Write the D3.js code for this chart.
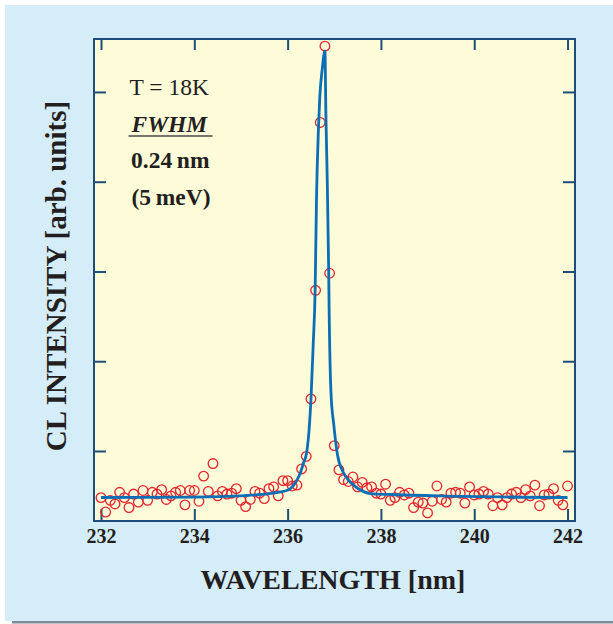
<!DOCTYPE html>
<html>
<head>
<meta charset="UTF-8">
<title>CL spectrum</title>
<script src="https://cdn.jsdelivr.net/npm/d3@7"></script>
<style>
  body { margin: 0; background: #fff; }
  svg text { font-family: "Liberation Serif", "Times New Roman", serif; fill: #231f20; }
</style>
</head>
<body>
<script>
// measured points, one every 0.1 nm from 232.0 to 242.0
var wavelength = d3.range(0, 101).map(function (i) { return +(232 + i * 0.1).toFixed(1); });
var intensity = [
  0.48, 0.32, 0.45, 0.41, 0.54, 0.48, 0.37, 0.52, 0.43, 0.56,
  0.45, 0.54, 0.52, 0.57, 0.46, 0.50, 0.54, 0.56, 0.40, 0.56,
  0.56, 0.44, 0.72, 0.55, 0.86, 0.50, 0.55, 0.52, 0.53, 0.58,
  0.45, 0.38, 0.46, 0.55, 0.53, 0.47, 0.58, 0.60, 0.50, 0.67,
  0.67, 0.61, 0.62, 0.80, 0.94, 1.58, 2.79, 4.66, 5.51, 2.98,
  1.06, 0.79, 0.68, 0.66, 0.71, 0.60, 0.65, 0.59, 0.60, 0.53,
  0.52, 0.63, 0.45, 0.48, 0.54, 0.51, 0.53, 0.37, 0.43, 0.42,
  0.31, 0.44, 0.61, 0.46, 0.43, 0.53, 0.54, 0.53, 0.42, 0.60,
  0.51, 0.52, 0.55, 0.52, 0.39, 0.48, 0.40, 0.48, 0.52, 0.54,
  0.48, 0.57, 0.50, 0.62, 0.39, 0.51, 0.52, 0.58, 0.45, 0.40,
  0.61
];

// fitted curve
var fitX = [232.00, 234.00, 235.00, 235.30, 235.66, 236.01, 236.16, 236.27, 236.34, 236.41,
  236.46, 236.50, 236.55, 236.59, 236.62, 236.66, 236.69, 236.74, 236.80, 236.82,
  236.85, 236.88, 236.89, 236.93, 236.99, 237.07, 237.19, 237.34, 237.51, 237.77,
  238.23, 239.27, 242.00];
var fitY = [0.482, 0.487, 0.499, 0.510, 0.529, 0.565, 0.640, 0.752, 0.866, 0.989,
  1.234, 1.568, 2.203, 2.794, 3.830, 4.577, 4.945, 5.245, 5.457, 4.769,
  4.004, 3.017, 2.571, 1.646, 1.290, 0.955, 0.766, 0.655, 0.582, 0.526,
  0.515, 0.499, 0.482];

var xTicks = [232, 234, 236, 238, 240, 242];
var yTicks = [1, 2, 3, 4, 5];

var W = 613, H = 624;
var svg = d3.select("body").append("svg").attr("width", W).attr("height", H);

// blue panel and grey rule under it
svg.append("rect").attr("x", 5).attr("y", 5).attr("width", W - 5).attr("height", 616).attr("fill", "#d5ecf9");
svg.append("rect").attr("x", 12).attr("y", 621).attr("width", W - 12).attr("height", 2.5).attr("fill", "#7d8c98");

var pl = 94, pr = 575, pt = 39, pb = 521;

var x = d3.scaleLinear().domain([231.85, 242.16]).range([pl, pr]);
var y = d3.scaleLinear().domain([0.22, 5.59]).range([pb, pt]);

svg.append("rect").attr("x", pl).attr("y", pt)
  .attr("width", pr - pl).attr("height", pb - pt)
  .attr("fill", "#fefbd8");

// axes, ticks point inward
function styleAxis(g) {
  g.select(".domain").remove();
  g.selectAll(".tick line").attr("stroke", "#1d4e7a").attr("stroke-width", 2);
}
svg.append("g").attr("transform", "translate(0," + pb + ")")
  .call(d3.axisBottom(x).tickValues(xTicks).tickSize(-12).tickPadding(8).tickFormat(d3.format("d")))
  .call(styleAxis)
  .selectAll("text").attr("font-size", 20).attr("font-weight", "bold")
  .attr("font-family", "Liberation Serif, serif").attr("fill", "#231f20");
svg.append("g").attr("transform", "translate(0," + pt + ")")
  .call(d3.axisTop(x).tickValues(xTicks).tickSize(-11).tickFormat(""))
  .call(styleAxis);
svg.append("g").attr("transform", "translate(" + pl + ",0)")
  .call(d3.axisLeft(y).tickValues(yTicks).tickSize(-12).tickFormat(""))
  .call(styleAxis);
svg.append("g").attr("transform", "translate(" + pr + ",0)")
  .call(d3.axisRight(y).tickValues(yTicks).tickSize(-12).tickFormat(""))
  .call(styleAxis);

// data circles
svg.append("g").selectAll("circle")
  .data(wavelength)
  .enter().append("circle")
  .attr("cx", function (d) { return x(d); })
  .attr("cy", function (d, i) { return y(intensity[i]); })
  .attr("r", 4.8)
  .attr("fill", "none")
  .attr("stroke", "#e2262e")
  .attr("stroke-width", 1.3);

// fit line
var line = d3.line()
  .x(function (d) { return x(d[0]); })
  .y(function (d) { return y(d[1]); })
  .curve(d3.curveMonotoneX);
svg.append("path")
  .datum(d3.zip(fitX, fitY))
  .attr("d", line)
  .attr("fill", "none")
  .attr("stroke", "#0b6fb6")
  .attr("stroke-width", 2.8);

// frame
svg.append("rect").attr("x", pl).attr("y", pt)
  .attr("width", pr - pl).attr("height", pb - pt)
  .attr("fill", "none").attr("stroke", "#1d4e7a").attr("stroke-width", 2);

// annotation
svg.append("text").attr("x", 129.5).attr("y", 95).attr("font-size", 23.5).text("T = 18K");
svg.append("text").attr("x", 131.5).attr("y", 131.5).attr("font-size", 23.5)
  .attr("font-weight", "bold").attr("font-style", "italic").text("FWHM");
svg.append("line").attr("x1", 128.5).attr("x2", 212.5).attr("y1", 136).attr("y2", 136)
  .attr("stroke", "#4a4a4a").attr("stroke-width", 1.5);
svg.append("text").attr("x", 131).attr("y", 168).attr("font-size", 23.5)
  .attr("font-weight", "bold").text("0.24\u2009nm");
svg.append("text").attr("x", 131.5).attr("y", 205).attr("font-size", 23.5)
  .attr("font-weight", "bold").text("(5\u2009meV)");

// axis titles
svg.append("text").attr("x", 333).attr("y", 589).attr("text-anchor", "middle")
  .attr("font-size", 28).attr("font-weight", "bold").text("WAVELENGTH [nm]");
svg.append("text").attr("transform", "translate(66,276) rotate(-90)")
  .attr("text-anchor", "middle").attr("font-size", 29).attr("font-weight", "bold")
  .text("CL INTENSITY [arb. units]");
</script>
</body>
</html>
